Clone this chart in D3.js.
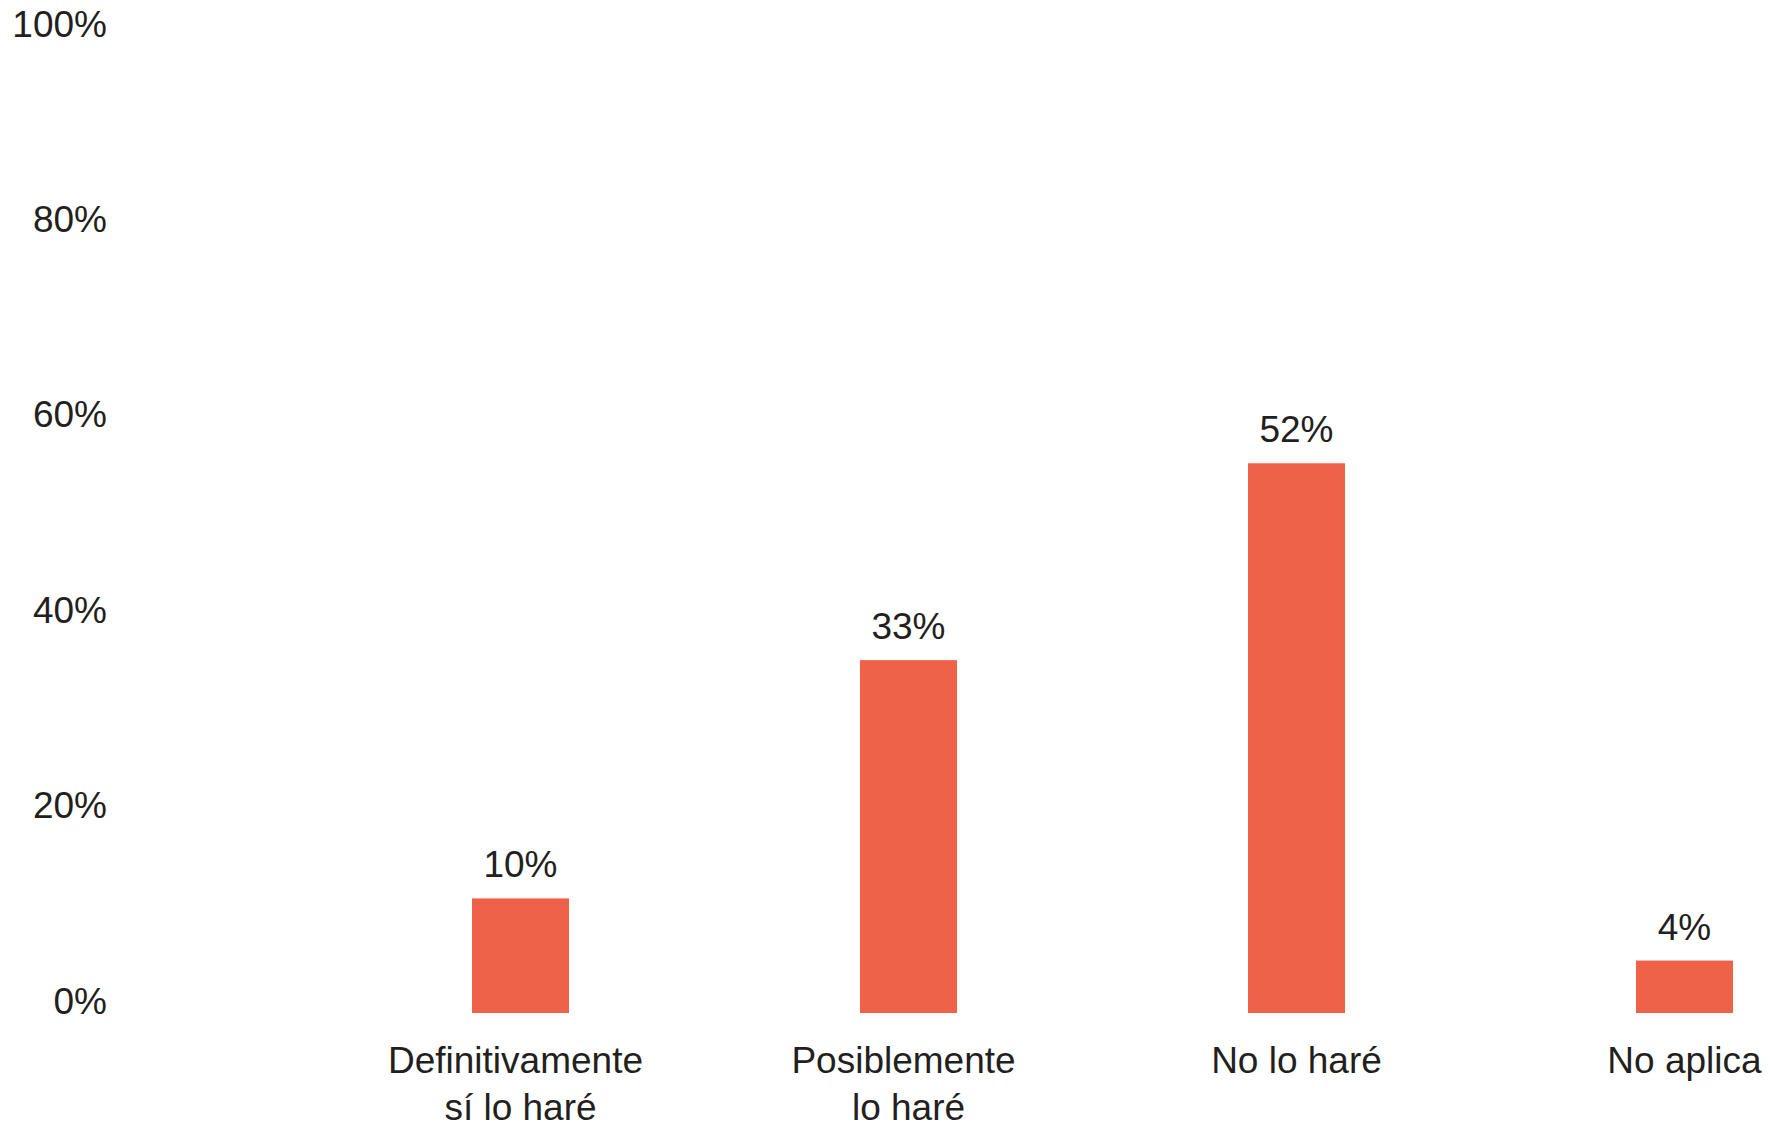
<!DOCTYPE html>
<html>
<head>
<meta charset="utf-8">
<script src="https://cdn.jsdelivr.net/npm/d3@7"></script>
<style>
  html, body { margin: 0; padding: 0; background: #ffffff; }
  svg { display: block; }
  text { font-family: "Liberation Sans", Arial, Helvetica, sans-serif; fill: #231f20; }
</style>
</head>
<body>
<svg id="chart" width="1771" height="1129"></svg>
<script>
// ---- data ----
const categories = ["Definitivamente sí lo haré", "Posiblemente lo haré", "No lo haré", "No aplica"];
const categoryLines = [["Definitivamente", "sí lo haré"], ["Posiblemente", "lo haré"], ["No lo haré"], ["No aplica"]];
const values = [10, 33, 52, 4];
const yTicks = [0, 20, 40, 60, 80, 100];

// ---- layout ----
const svg = d3.select("#chart");
const barColor = "#ef624a";
const barWidth = 97;
const fontSize = "37px";

const x = d3.scalePoint().domain(categories).range([520.5, 1684.5]);
// axis label scale (tick label baselines)
const yAxis = d3.scaleLinear().domain([0, 100]).range([1013, 36]);
// bar scale as drawn in the original chart
const yBar = d3.scaleLinear().domain([0, 100]).range([1002, -34]);
const baseline = yAxis(0);

// y axis labels (no line, no ticks)
const axis = d3.axisLeft(yAxis)
  .tickValues(yTicks)
  .tickFormat(d => d + "%")
  .tickSize(0)
  .tickPadding(0);
const gAxis = svg.append("g").attr("transform", "translate(107,0)").call(axis);
gAxis.select(".domain").remove();
gAxis.selectAll("text")
  .attr("dy", 0)
  .attr("x", 0)
  .style("font-size", fontSize)
  .style("font-family", "'Liberation Sans', Arial, Helvetica, sans-serif")
  .attr("fill", "#231f20");

// bars
svg.append("g").selectAll("rect")
  .data(values)
  .join("rect")
  .attr("x", (d, i) => x(categories[i]) - barWidth / 2)
  .attr("y", d => yBar(d))
  .attr("width", barWidth)
  .attr("height", d => baseline - yBar(d))
  .attr("fill", barColor);

// value labels
svg.append("g").selectAll("text")
  .data(values)
  .join("text")
  .attr("x", (d, i) => x(categories[i]))
  .attr("y", d => yBar(d) - 21)
  .attr("text-anchor", "middle")
  .style("font-size", fontSize)
  .text(d => d + "%");

// category labels
const gCat = svg.append("g");
categories.forEach((c, i) => {
  const lines = categoryLines[i];
  const t = gCat.append("text")
    .attr("x", x(c))
    .attr("y", 1073)
    .attr("text-anchor", "middle")
    .style("font-size", fontSize);
  lines.forEach((line, j) => {
    t.append("tspan")
      .attr("x", (j === 0 && lines.length > 1) ? x(c) - 5 : x(c))
      .attr("dy", j === 0 ? 0 : 47)
      .text(line);
  });
});
</script>
</body>
</html>
